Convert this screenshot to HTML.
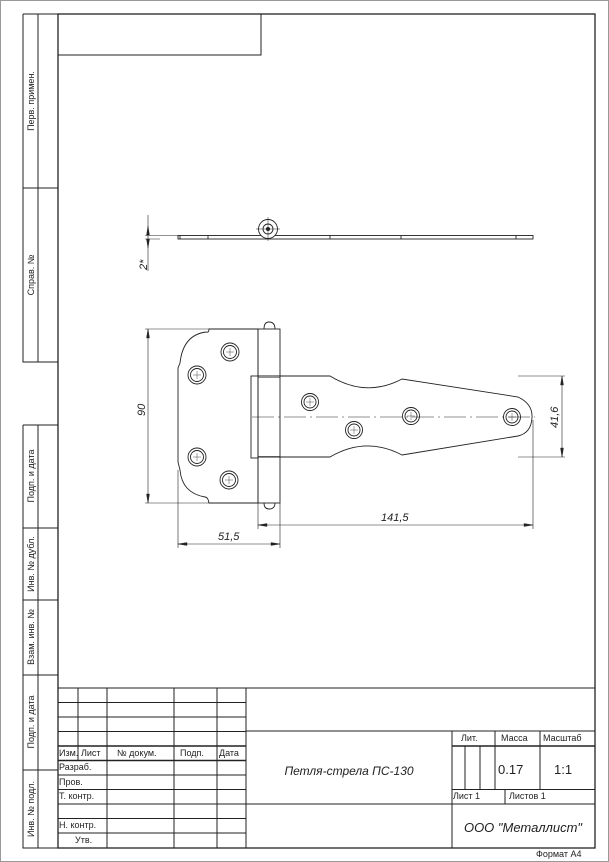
<!DOCTYPE html>
<html><head><meta charset="utf-8"><style>
html,body{margin:0;padding:0;background:#fff}
svg{display:block}
text{font-family:"Liberation Sans",sans-serif;fill:#222}
.i{font-style:italic}
</style></head><body>
<svg width="609" height="862" viewBox="0 0 609 862" xmlns="http://www.w3.org/2000/svg">
<rect x="0.5" y="0.5" width="608" height="861" fill="#fff" stroke="#999" stroke-width="1"/>
<g stroke="#222" fill="none" stroke-width="1">
<rect x="58" y="14" width="537" height="834" stroke-width="1.3"/>
<rect x="58" y="14" width="203" height="41"/>
<path d="M23 14V362H58M38 14V362M23 188H58M23 14H58"/>
<path d="M23 425H58M23 425V848H58M38 425V848M23 528H58M23 600H58M23 675H58M23 770H58"/>
<path d="M58 688H595M246 731H595M58 702.5H246M58 717H246M58 731.5H246M58 746H246M58 760.5H246M58 775H246M58 789.5H246M58 804H246M58 818.5H246M58 833H246"/>
<path d="M78 688V760.5M107 688V848M174 688V848M217 688V848M246 688V848M452 731V848M495 731V789M540 731V789M452 789.5H595M452 746H595M452 804H595M246 804H452M465 746V789M480 746V789M505 789.5V804"/>
<path d="M58 746H246M58 760.5H246M452 746H595" stroke-width="1.6"/>
</g>
<g font-size="9">
<text transform="translate(34,101) rotate(-90)" text-anchor="middle">Перв. примен.</text>
<text transform="translate(34,275) rotate(-90)" text-anchor="middle">Справ. №</text>
<text transform="translate(34,476) rotate(-90)" text-anchor="middle">Подп. и дата</text>
<text transform="translate(34,564) rotate(-90)" text-anchor="middle">Инв. № дубл.</text>
<text transform="translate(34,637) rotate(-90)" text-anchor="middle">Взам. инв. №</text>
<text transform="translate(34,722) rotate(-90)" text-anchor="middle">Подп. и дата</text>
<text transform="translate(34,809) rotate(-90)" text-anchor="middle">Инв. № подл.</text>
<text x="59" y="756">Изм.</text><text x="81" y="756">Лист</text><text x="117" y="756">№ докум.</text><text x="180" y="756">Подп.</text><text x="219" y="756">Дата</text>
<text x="59" y="770">Разраб.</text><text x="59" y="785">Пров.</text><text x="59" y="799">Т. контр.</text><text x="59" y="828">Н. контр.</text><text x="75" y="843">Утв.</text>
<text x="461" y="741">Лит.</text><text x="501" y="741">Масса</text><text x="543" y="741">Масштаб</text>
<text x="453" y="799">Лист 1</text><text x="509" y="799">Листов 1</text>
<text x="536" y="857">Формат А4</text>
</g>
<text x="498" y="774" font-size="13">0.17</text><text x="554" y="774" font-size="13">1:1</text>
<text x="349" y="775" font-size="12" class="i" text-anchor="middle">Петля-стрела ПС-130</text>
<text x="523" y="832" font-size="13" class="i" text-anchor="middle">ООО "Металлист"</text>

<g stroke="#222" fill="none" stroke-width="0.9">
<rect x="178" y="235.5" width="355" height="3.5" fill="#fff"/>
<path d="M180 235.5V239M208 235.5V239M330 235.5V239M401 235.5V239M516 235.5V239"/>
<circle cx="268" cy="229" r="9.5" fill="#fff"/><circle cx="268" cy="229" r="5"/><circle cx="268" cy="229" r="1.6" fill="#222"/>
<path d="M256 229H280M268 217V241" stroke-width="0.5"/>
<path d="M148 215V271M145 235.5H178M145 239H160" stroke-width="0.6"/>
<path d="M148 226l-1.5 9h3zM148 248l-1.5-9h3z" fill="#222" stroke-width="0.4"/>
</g>
<text transform="translate(147,270) rotate(-90)" font-size="11" class="i">2*</text>

<g stroke="#222" fill="none" stroke-width="0.9">
<path d="M209 329H258V503H209Q208 497 205 497Q182 493 180 470L178 462V368L180 363Q183 335 206 332Q209 333 209 329Z"/>
<rect x="258" y="329" width="22" height="174"/>
<path d="M264 329Q264 322 269 322Q275 322 275 329M264 503Q264 509 269 509Q275 509 275 503"/>
<rect x="251" y="376" width="7" height="82"/>
<path d="M258 376H330Q366 398 402 379L518 397Q533 404 532 418Q531 433 518 436L402 455Q366 436 330 457H258"/>
<path d="M258 377.5H280M258 456.5H280" stroke-width="0.6"/>
<path d="M252 417H535" stroke-width="0.5" stroke-dasharray="22 4 2 4"/>
<g>
<circle cx="230" cy="352" r="9"/><circle cx="230" cy="352" r="6.5"/>
<circle cx="197" cy="375" r="9"/><circle cx="197" cy="375" r="6.5"/>
<circle cx="197" cy="457" r="9"/><circle cx="197" cy="457" r="6.5"/>
<circle cx="229" cy="480" r="9"/><circle cx="229" cy="480" r="6.5"/>
<circle cx="310" cy="402" r="8.5"/><circle cx="310" cy="402" r="6"/>
<circle cx="354" cy="430" r="8.5"/><circle cx="354" cy="430" r="6"/>
<circle cx="411" cy="416" r="8.5"/><circle cx="411" cy="416" r="6"/>
<circle cx="512" cy="417" r="8.5"/><circle cx="512" cy="417" r="6"/>
</g>
<path stroke-width="0.4" d="M226 352h8M230 348v8M193 375h8M197 371v8M193 457h8M197 453v8M225 480h8M229 476v8M306 402h8M310 398v8M350 430h8M354 426v8M407 416h8M411 412v8M508 417h8M512 413v8"/>
<g stroke-width="0.6">
<path d="M145 329H209M145 503H209M148 329V503"/>
<path d="M178 470V548M280 503V548M178 544H280"/>
<path d="M258 503V529M533 420V529M258 525H533"/>
<path d="M518 376H565M518 457H565M562 376V457"/>
</g>
<g fill="#222" stroke-width="0.4">
<path d="M148 329l-1.5 9h3zM148 503l-1.5-9h3z"/>
<path d="M178 544l9-1.5v3zM280 544l-9-1.5v3z"/>
<path d="M258 525l9-1.5v3zM533 525l-9-1.5v3z"/>
<path d="M562 376l-1.5 9h3zM562 457l-1.5-9h3z"/>
</g>
</g>
<g font-size="11" class="i">
<text transform="translate(145,416) rotate(-90)">90</text>
<text x="218" y="540">51,5</text>
<text x="381" y="521">141,5</text>
<text transform="translate(558,428) rotate(-90)">41,6</text>
</g>
</svg>
</body></html>
